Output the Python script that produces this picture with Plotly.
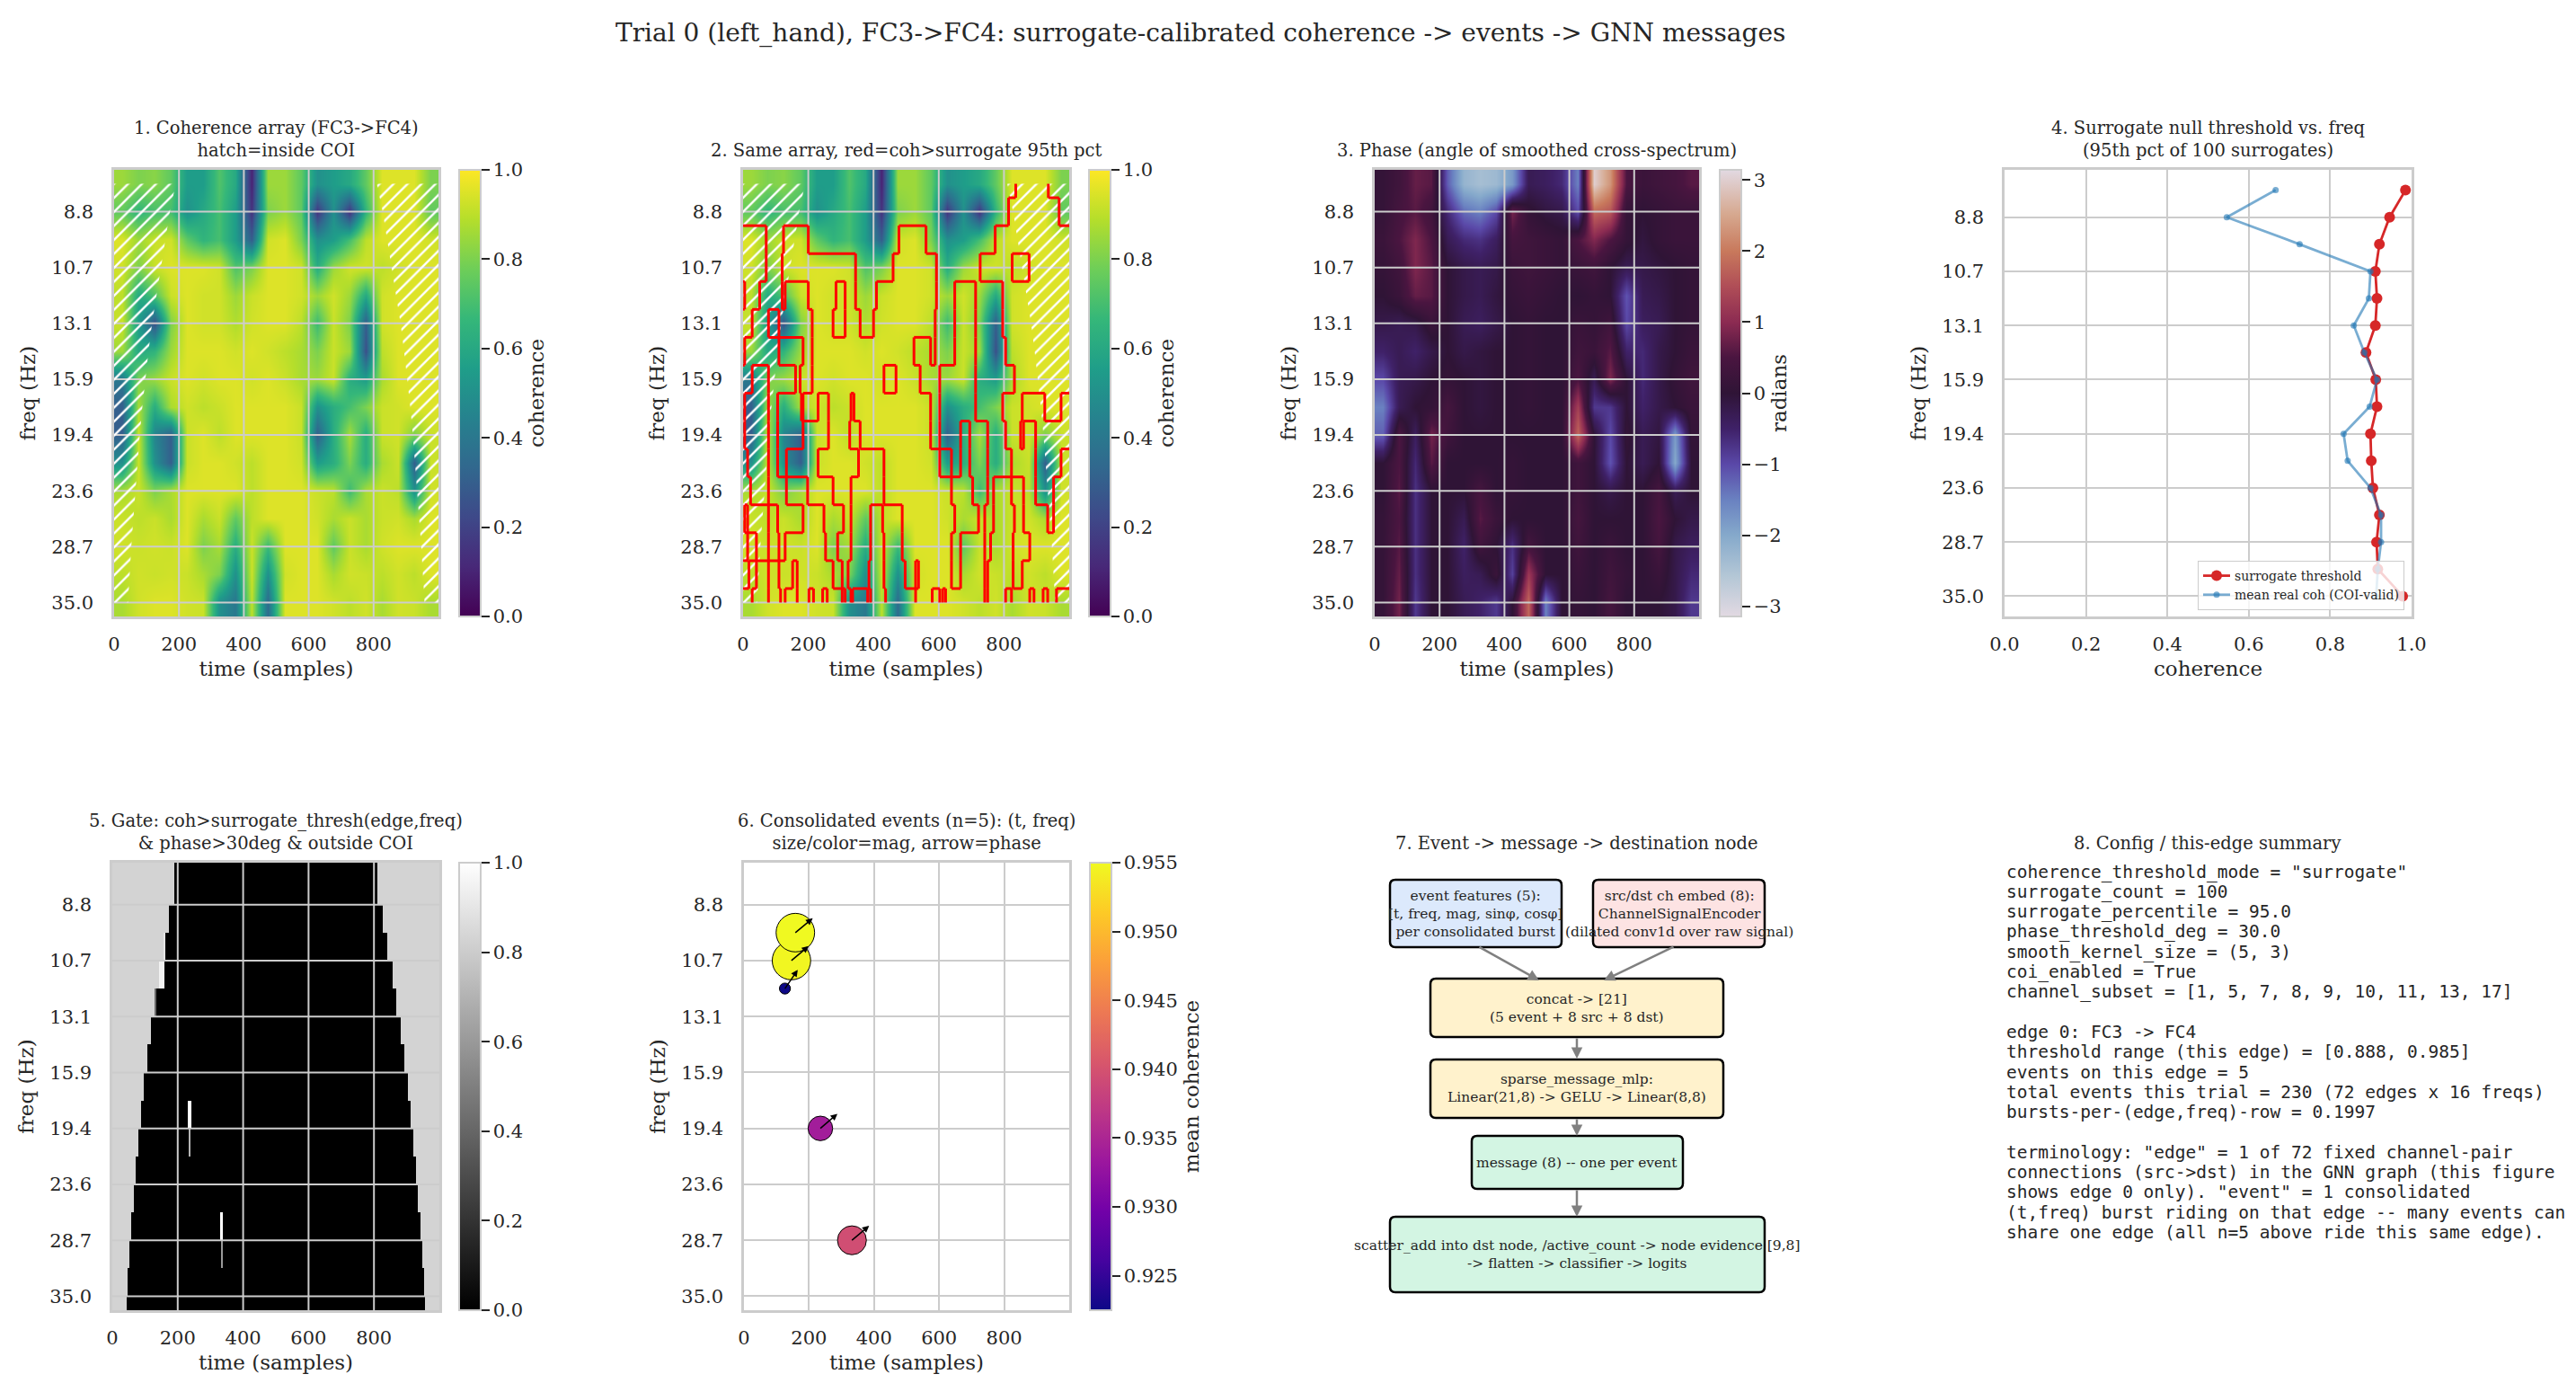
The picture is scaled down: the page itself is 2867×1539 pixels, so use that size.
import numpy as np
import plotly.graph_objects as go

W, H = 2867, 1539
N_SAMPLES = 1000

# ---------------- data ----------------
ROWS = list(range(16))
FREQ_TICK_ROWS = [1, 3, 5, 7, 9, 11, 13, 15]
FREQ_TICK_LABELS = ["8.8", "10.7", "13.1", "15.9", "19.4", "23.6", "28.7", "35.0"]
TIME_TICKS = [0, 200, 400, 600, 800]

# coherence grid, 16 freq rows x 20 time columns (centres every 50 samples)
GRID_T = list(range(25, 1000, 50))
COH = [
    [0.85, 0.80, 0.82, 0.75, 0.55, 0.55, 0.72, 0.60, 0.10, 0.85, 0.85, 0.75, 0.50, 0.55, 0.60, 0.75, 0.95, 0.95, 0.95, 0.80],
    [0.75, 0.65, 0.70, 0.70, 0.50, 0.60, 0.70, 0.55, 0.15, 0.80, 0.85, 0.75, 0.15, 0.50, 0.15, 0.65, 0.95, 0.95, 0.95, 0.75],
    [0.95, 0.85, 0.92, 0.93, 0.75, 0.65, 0.70, 0.55, 0.30, 0.93, 0.95, 0.80, 0.50, 0.55, 0.70, 0.90, 0.95, 0.95, 0.95, 0.93],
    [0.93, 0.80, 0.92, 0.95, 0.95, 0.95, 0.93, 0.72, 0.80, 0.95, 0.95, 0.93, 0.62, 0.85, 0.93, 0.93, 0.90, 0.93, 0.95, 0.95],
    [0.90, 0.60, 0.72, 0.92, 0.95, 0.93, 0.93, 0.85, 0.92, 0.95, 0.95, 0.93, 0.85, 0.93, 0.85, 0.60, 0.93, 0.95, 0.95, 0.95],
    [0.92, 0.55, 0.25, 0.80, 0.95, 0.93, 0.93, 0.88, 0.93, 0.95, 0.95, 0.90, 0.68, 0.92, 0.80, 0.30, 0.93, 0.95, 0.95, 0.95],
    [0.85, 0.60, 0.65, 0.85, 0.95, 0.95, 0.95, 0.93, 0.95, 0.93, 0.90, 0.87, 0.80, 0.92, 0.85, 0.25, 0.90, 0.95, 0.95, 0.95],
    [0.40, 0.80, 0.85, 0.92, 0.95, 0.93, 0.95, 0.95, 0.93, 0.95, 0.92, 0.87, 0.85, 0.92, 0.62, 0.55, 0.87, 0.95, 0.95, 0.95],
    [0.30, 0.87, 0.62, 0.87, 0.93, 0.90, 0.92, 0.95, 0.95, 0.95, 0.95, 0.92, 0.50, 0.62, 0.70, 0.80, 0.92, 0.93, 0.95, 0.95],
    [0.30, 0.92, 0.45, 0.30, 0.92, 0.95, 0.90, 0.95, 0.95, 0.95, 0.95, 0.92, 0.30, 0.62, 0.87, 0.62, 0.92, 0.93, 0.80, 0.92],
    [0.50, 0.92, 0.50, 0.30, 0.92, 0.95, 0.95, 0.93, 0.90, 0.95, 0.95, 0.93, 0.55, 0.62, 0.80, 0.62, 0.87, 0.92, 0.30, 0.92],
    [0.87, 0.92, 0.80, 0.87, 0.95, 0.95, 0.95, 0.95, 0.90, 0.95, 0.95, 0.95, 0.92, 0.90, 0.68, 0.87, 0.92, 0.90, 0.50, 0.93],
    [0.92, 0.90, 0.92, 0.87, 0.95, 0.87, 0.92, 0.75, 0.90, 0.95, 0.95, 0.95, 0.93, 0.87, 0.92, 0.87, 0.92, 0.93, 0.87, 0.95],
    [0.93, 0.92, 0.93, 0.92, 0.95, 0.80, 0.87, 0.62, 0.92, 0.68, 0.95, 0.95, 0.95, 0.75, 0.92, 0.87, 0.93, 0.95, 0.95, 0.95],
    [0.90, 0.93, 0.92, 0.93, 0.92, 0.87, 0.80, 0.50, 0.92, 0.50, 0.93, 0.95, 0.95, 0.87, 0.93, 0.92, 0.90, 0.93, 0.90, 0.95],
    [0.87, 0.93, 0.95, 0.95, 0.93, 0.92, 0.50, 0.40, 0.90, 0.35, 0.95, 0.95, 0.95, 0.93, 0.90, 0.93, 0.87, 0.93, 0.92, 0.87],
]

# phase (radians) on the same grid
PHASE = [
    [0.1, 0.3, 0.7, 0.6, -1.2, -2.2, -2.4, -2.3, -1.8, -0.3, -0.4, -0.6, -1.5, 3.0, 2.3, 0.5, 0.2, 0.3, 0.4, 0.6],
    [0.1, 0.4, 0.6, 0.3, -0.6, -1.3, -1.5, -1.0, 0.8, 0.1, -0.1, -0.2, -1.0, 1.8, 1.6, 0.1, 0.0, 0.1, 0.2, 0.2],
    [0.2, 0.5, 0.9, 0.5, -0.3, -0.6, -0.7, -0.4, 0.4, 0.3, 0.2, 0.1, 0.5, 0.9, 0.5, 0.1, -0.1, 0.1, 0.2, 0.2],
    [0.1, 0.3, 0.9, 0.6, 0.0, -0.2, -0.3, -0.2, 0.2, 0.3, 0.2, 0.1, 0.2, 0.3, 0.0, -0.3, -0.2, -0.1, 0.0, 0.1],
    [0.0, 0.2, 0.7, 0.6, 0.0, -0.2, -0.3, -0.1, 0.1, 0.2, 0.1, 0.0, 0.0, 0.1, 0.0, -1.1, -0.3, -0.2, 0.0, 0.1],
    [-0.2, -0.3, -0.2, 0.2, 0.0, -0.3, -0.4, -0.2, 0.0, 0.1, 0.0, 0.0, 0.2, 0.1, 0.3, -1.0, -0.4, -0.3, 0.0, 0.1],
    [-0.5, -0.3, -0.5, -0.2, 0.0, -0.2, -0.1, 0.0, 0.0, 0.1, 0.0, 0.0, 0.3, 0.2, 0.6, -0.5, -0.6, -0.2, 0.0, 0.2],
    [-1.0, -0.3, -0.2, 0.0, 0.1, 0.0, -0.1, 0.0, 0.0, 0.1, 0.0, 0.0, 0.5, -0.3, 0.9, 0.0, -0.6, -0.2, 0.1, 0.3],
    [-1.5, -0.3, 0.0, 0.1, 0.4, 0.0, -0.1, 0.0, 0.0, 0.1, 0.0, 0.0, 1.3, -0.8, -0.8, 0.0, -0.5, -0.2, 0.0, 0.2],
    [-1.2, 0.5, -0.4, 0.8, 0.3, 0.0, 0.0, 0.0, 0.0, 0.0, 0.0, 0.0, 1.8, 0.0, -1.0, 0.1, -0.3, -0.1, -1.8, 0.1],
    [0.0, 0.5, -0.6, 0.6, 0.0, 0.0, 0.0, 0.0, 0.1, 0.0, 0.0, 0.0, 0.3, 0.0, -1.1, 0.0, -0.3, 0.0, -2.0, 0.0],
    [0.0, 0.6, -0.7, 0.0, 0.0, 0.0, 0.4, 0.0, 0.1, 0.0, 0.0, 0.0, 0.3, 0.0, -0.2, 0.0, 0.0, 0.4, -0.3, 0.0],
    [0.1, 0.5, -0.7, 0.0, 0.0, -0.3, 0.6, 0.2, 0.0, 0.0, 0.0, 0.0, 0.4, 0.0, 0.0, 0.0, 0.0, 0.5, 0.0, -0.2],
    [0.1, 0.6, -0.7, 0.0, 0.0, -0.5, 0.3, 0.0, -0.7, 0.4, 0.0, 0.0, 0.3, 0.0, 0.2, 0.0, 0.0, 0.4, -0.2, -0.4],
    [0.1, 0.7, -0.7, 0.0, 0.0, -0.4, -0.3, 0.2, -0.9, 1.2, 0.0, 0.0, 0.2, 0.0, 0.3, 0.1, 0.0, 0.2, -0.2, -0.6],
    [0.1, 0.8, -0.8, 0.0, 0.0, -0.3, -0.5, -0.8, 0.0, 1.8, -1.5, 0.0, 0.1, 0.0, 0.4, 0.0, 0.0, 0.0, -0.2, -0.8],
]

# cone of influence: samples lost at each side, per freq row
COI_LEFT = [190, 172, 158, 144, 131, 117, 106, 96, 87, 79, 72, 65, 59, 53, 48, 43]

# runs (start, end sample) where coherence > surrogate threshold, per freq row
MASK_RUNS = [
    [(836, 936)],
    [(814, 969)],
    [(0, 71), (124, 200), (478, 561), (773, 1000)],
    [(0, 71), (120, 345), (460, 593), (727, 825), (877, 1000)],
    [(5, 51), (120, 129), (200, 285), (313, 345), (409, 593), (649, 713), (796, 1000)],
    [(0, 28), (78, 110), (212, 276), (313, 359), (400, 589), (649, 713), (796, 1000)],
    [(0, 5), (110, 184), (212, 524), (575, 589), (649, 713), (805, 1000)],
    [(28, 78), (161, 175), (212, 432), (469, 543), (603, 713), (832, 1000)],
    [(5, 78), (106, 179), (184, 230), (262, 331), (340, 575), (603, 713), (796, 856), (925, 975)],
    [(5, 78), (106, 184), (262, 327), (359, 575), (603, 667), (695, 750), (805, 851), (860, 897)],
    [(14, 78), (106, 133), (230, 354), (432, 603), (639, 667), (695, 750), (823, 897), (975, 1000)],
    [(23, 78), (133, 198), (276, 331), (432, 639), (704, 750), (768, 823), (860, 897), (952, 1000)],
    [(5, 14), (78, 106), (184, 248), (308, 331), (391, 428), (488, 649), (722, 741), (768, 832), (860, 934), (952, 1000)],
    [(14, 41), (78, 110), (129, 253), (290, 331), (391, 432), (488, 639), (667, 741), (759, 828), (879, 1000)],
    [(0, 18), (41, 78), (110, 152), (166, 276), (304, 322), (386, 432), (497, 529), (538, 639), (667, 741), (750, 828), (856, 1000)],
    [(28, 78), (115, 129), (166, 202), (216, 244), (258, 304), (313, 331), (336, 382), (391, 437), (529, 580),
     (603, 612), (621, 741), (750, 805), (823, 879), (892, 920), (934, 961)],
]

# open-gate spots: (row band, start sample, end sample, value)
GATE_SPOTS = [(2, 156, 162, 0.9), (3, 144, 160, 0.95), (4, 129, 134, 0.4),
              (8, 231, 242, 1.0), (9, 233, 240, 0.7), (12, 331, 339, 1.0), (13, 332, 338, 0.6)]

SURR_THRESH = [0.985, 0.946, 0.921, 0.911, 0.915, 0.911, 0.888, 0.912,
               0.915, 0.899, 0.901, 0.905, 0.921, 0.914, 0.917, 0.978]
MEAN_REAL_COH = [0.666, 0.546, 0.725, 0.899, 0.895, 0.858, 0.884, 0.915,
                 0.897, 0.833, 0.843, 0.899, 0.925, 0.925, 0.917, 0.913]

EVENT_T = [146, 158, 126, 235, 332]
EVENT_ROW = [3, 2, 4, 9, 13]
EVENT_MAG = [0.9548, 0.9550, 0.9225, 0.9340, 0.9395]
EVENT_PHASE = [0.70, 0.69, 0.97, 0.71, 0.70]

CONFIG_LINES = [
    'coherence_threshold_mode = "surrogate"',
    'surrogate_count = 100',
    'surrogate_percentile = 95.0',
    'phase_threshold_deg = 30.0',
    'smooth_kernel_size = (5, 3)',
    'coi_enabled = True',
    'channel_subset = [1, 5, 7, 8, 9, 10, 11, 13, 17]',
    '',
    'edge 0: FC3 -> FC4',
    'threshold range (this edge) = [0.888, 0.985]',
    'events on this edge = 5',
    'total events this trial = 230 (72 edges x 16 freqs)',
    'bursts-per-(edge,freq)-row = 0.1997',
    '',
    'terminology: "edge" = 1 of 72 fixed channel-pair',
    'connections (src->dst) in the GNN graph (this figure',
    'shows edge 0 only). "event" = 1 consolidated',
    '(t,freq) burst riding on that edge -- many events can',
    'share one edge (all n=5 above ride this same edge).',
]

# ---------------- layout geometry (pixels) ----------------
PANELS = {
    1: (119, 480, 181, 678),
    2: (819, 1182, 181, 678),
    3: (1522, 1883, 181, 678),
    4: (2223, 2676, 181, 678),
    5: (117, 481, 952, 1450),
    6: (820, 1182, 952, 1450),
}
CBAR_X = {1: 503, 2: 1204, 3: 1906, 5: 503, 6: 1205}

TITLES = {
    1: "1. Coherence array (FC3->FC4)<br>hatch=inside COI",
    2: "2. Same array, red=coh>surrogate 95th pct",
    3: "3. Phase (angle of smoothed cross-spectrum)",
    4: "4. Surrogate null threshold vs. freq<br>(95th pct of 100 surrogates)",
    5: "5. Gate: coh>surrogate_thresh(edge,freq)<br>&amp; phase>30deg &amp; outside COI",
    6: "6. Consolidated events (n=5): (t, freq)<br>size/color=mag, arrow=phase",
}

TEXT = "#262626"
GRID = "#cccccc"
SERIF = "DejaVu Serif"
TITLE_SIZE = 19.5

TWILIGHT = [[0.0, "#e2d9e2"], [0.09, "#b4c7d6"], [0.182, "#85a9cb"], [0.26, "#6a82c1"],
            [0.341, "#5a48a8"], [0.42, "#3f2168"], [0.5, "#2f1436"], [0.58, "#4a1540"],
            [0.659, "#8c2b52"], [0.74, "#b04e57"], [0.818, "#c8795c"], [0.9, "#d6a88f"],
            [1.0, "#e2d9e2"]]


def xr(p):
    return "x" if p == 1 else f"x{p}"


def yr(p):
    return "y" if p == 1 else f"y{p}"


def cbar(p, title, tickvals, fmt):
    x0, x1, y0, y1 = PANELS[p]
    return dict(
        x=CBAR_X[p] / W, xanchor="left", xpad=0, ypad=0,
        y=1 - (y0 + y1) / 2 / H, yanchor="middle",
        len=(y1 - y0) / H, lenmode="fraction",
        thickness=24, thicknessmode="pixels",
        outlinecolor=GRID, outlinewidth=2,
        ticks="outside", ticklen=9, tickwidth=2, tickcolor=TEXT,
        tickvals=tickvals, tickformat=fmt,
        tickfont=dict(size=21, color=TEXT, family=SERIF),
        title=dict(text=title, side="right", font=dict(size=23, color=TEXT, family=SERIF)),
    )


def grid_trace(p):
    xs, ys = [], []
    for t in TIME_TICKS[1:]:
        xs += [t, t, None]
        ys += [-0.5, 15.5, None]
    for r in FREQ_TICK_ROWS:
        xs += [0, N_SAMPLES, None]
        ys += [r, r, None]
    return go.Scatter(x=xs, y=ys, mode="lines", line=dict(color=GRID, width=2),
                      xaxis=xr(p), yaxis=yr(p), hoverinfo="skip", showlegend=False)


def hatch_traces(p):
    out = []
    left_x = [0] + COI_LEFT + [0]
    right_x = [N_SAMPLES] + [N_SAMPLES - c for c in COI_LEFT] + [N_SAMPLES]
    ys = [0] + ROWS + [15]
    for xs in (left_x, right_x):
        out.append(go.Scatter(
            x=xs, y=ys, mode="lines", fill="toself", line=dict(width=0),
            fillcolor="rgba(0,0,0,0)",
            fillpattern=dict(shape="/", fgcolor="white", bgcolor="rgba(0,0,0,0)",
                             fgopacity=1, size=11, solidity=0.22, fillmode="overlay"),
            xaxis=xr(p), yaxis=yr(p), hoverinfo="skip", showlegend=False))
    return out


def runs_of(flags):
    out = []
    start = None
    for i, f in enumerate(flags):
        if f and start is None:
            start = i
        elif not f and start is not None:
            out.append((start, i))
            start = None
    if start is not None:
        out.append((start, len(flags)))
    return out


fig = go.Figure()

# ---- panels 1 & 2: coherence
for p in (1, 2):
    fig.add_trace(go.Heatmap(
        x=GRID_T, y=ROWS, z=COH, zmin=0, zmax=1, colorscale="Viridis", zsmooth="best",
        colorbar=cbar(p, "coherence", [0, 0.2, 0.4, 0.6, 0.8, 1.0], ".1f"),
        xaxis=xr(p), yaxis=yr(p), hoverinfo="skip"))
    fig.add_trace(grid_trace(p))
    for tr in hatch_traces(p):
        fig.add_trace(tr)

# red outline of the above-threshold mask (panel 2)
mask = np.zeros((16, N_SAMPLES), dtype=bool)
for r, runs in enumerate(MASK_RUNS):
    for a, b in runs:
        mask[r, a:b] = True
ox, oy = [], []
for r in range(15):
    for a, b in runs_of(mask[r] != mask[r + 1]):
        ox += [a, b, None]
        oy += [r + 0.5, r + 0.5, None]
for r in range(16):
    for c in np.nonzero(np.diff(mask[r].astype(int)))[0] + 1:
        ox += [int(c), int(c), None]
        oy += [max(r - 0.5, 0), min(r + 0.5, 15), None]
fig.add_trace(go.Scatter(x=ox, y=oy, mode="lines", line=dict(color="#ff0000", width=3),
                         xaxis="x2", yaxis="y2", hoverinfo="skip", showlegend=False))

# ---- panel 3: phase
fig.add_trace(go.Heatmap(
    x=GRID_T, y=ROWS, z=PHASE, zmin=-np.pi, zmax=np.pi, colorscale=TWILIGHT, zsmooth="best",
    colorbar=cbar(3, "radians", [-3, -2, -1, 0, 1, 2, 3], "d"),
    xaxis="x3", yaxis="y3", hoverinfo="skip"))
fig.add_trace(grid_trace(3))

# ---- panel 4: surrogate threshold vs freq
fig.add_trace(go.Scatter(
    x=SURR_THRESH, y=ROWS, mode="lines+markers", name="surrogate threshold",
    line=dict(color="#d62728", width=2.8), marker=dict(size=12, color="#d62728"),
    xaxis="x4", yaxis="y4", legendrank=1))
fig.add_trace(go.Scatter(
    x=MEAN_REAL_COH, y=ROWS, mode="lines+markers", name="mean real coh (COI-valid)",
    line=dict(color="rgba(31,119,180,0.6)", width=2.8),
    marker=dict(size=7, color="rgba(31,119,180,0.6)"),
    xaxis="x4", yaxis="y4", legendrank=2))

# ---- panel 5: gate mask
gate = np.full((16, N_SAMPLES), np.nan)
for r, c in enumerate(COI_LEFT):
    gate[r, c:N_SAMPLES - c] = 0.0
for band, t0, t1, v in GATE_SPOTS:
    gate[band, t0:t1] = v
gate_y_edges = [-0.5] + list(range(1, 16)) + [15.5]
fig.add_trace(go.Heatmap(
    x=list(range(N_SAMPLES + 1)), y=gate_y_edges, z=gate, zmin=0, zmax=1,
    colorscale=[[0, "black"], [1, "white"]], zsmooth=False,
    colorbar=cbar(5, None, [0, 0.2, 0.4, 0.6, 0.8, 1.0], ".1f"),
    xaxis="x5", yaxis="y5", hoverinfo="skip"))
fig.add_trace(grid_trace(5))

# ---- panel 6: consolidated events
mag = np.array(EVENT_MAG)
diam = np.sqrt(150 + 52000 * (mag - mag.min()))
fig.add_trace(go.Scatter(
    x=EVENT_T, y=EVENT_ROW, mode="markers",
    marker=dict(size=diam, sizemode="diameter", color=EVENT_MAG, colorscale="Plasma",
                cmin=mag.min(), cmax=mag.max(), opacity=1,
                line=dict(color="black", width=1),
                colorbar=cbar(6, "mean coherence",
                              [0.925, 0.93, 0.935, 0.94, 0.945, 0.95, 0.955], ".3f")),
    xaxis="x6", yaxis="y6", hoverinfo="skip", showlegend=False))

annotations = []
ARROW_LEN = 27
for t, r, ph in zip(EVENT_T, EVENT_ROW, EVENT_PHASE):
    annotations.append(dict(
        x=t, y=r, xref="x6", yref="y6", text="", showarrow=True,
        ax=ARROW_LEN * np.cos(ph), ay=-ARROW_LEN * np.sin(ph),
        arrowside="start", startarrowhead=2, startarrowsize=1,
        arrowwidth=1.5, arrowcolor="black"))

# ---------------- axes ----------------
layout_axes = {}
for p, (x0, x1, y0, y1) in PANELS.items():
    suffix = "" if p == 1 else str(p)
    xa = dict(domain=[x0 / W, x1 / W], anchor=yr(p), automargin=False, showline=True, mirror=True,
              linecolor=GRID, linewidth=2.5, zeroline=False, ticks="",
              tickfont=dict(size=21, color=TEXT), ticklabelstandoff=10,
              title=dict(text="time (samples)", font=dict(size=23, color=TEXT), standoff=8),
              tickvals=TIME_TICKS, range=[0, N_SAMPLES], showgrid=False)
    ya = dict(domain=[1 - y1 / H, 1 - y0 / H], anchor=xr(p), automargin=False, showline=True, mirror=True,
              linecolor=GRID, linewidth=2.5, zeroline=False, ticks="",
              tickfont=dict(size=21, color=TEXT), ticklabelstandoff=16,
              title=dict(text="freq (Hz)", font=dict(size=23, color=TEXT), standoff=12),
              tickvals=FREQ_TICK_ROWS, ticktext=FREQ_TICK_LABELS,
              range=[15.5, -0.5], showgrid=False)
    if p == 4:
        xa.update(tickvals=[0, 0.2, 0.4, 0.6, 0.8, 1.0], tickformat=".1f", range=[0, 1],
                  showgrid=True, gridcolor=GRID, gridwidth=2)
        xa["title"]["text"] = "coherence"
        ya.update(range=[15.75, -0.75], showgrid=True, gridcolor=GRID, gridwidth=2)
    if p == 6:
        xa.update(showgrid=True, gridcolor=GRID, gridwidth=2)
        ya.update(showgrid=True, gridcolor=GRID, gridwidth=2)
    layout_axes["xaxis" + suffix] = xa
    layout_axes["yaxis" + suffix] = ya

# ---------------- titles ----------------
for p, text in TITLES.items():
    x0, x1, y0, y1 = PANELS[p]
    annotations.append(dict(x=(x0 + x1) / 2 / W, y=1 - (y0 - 8) / H, xref="paper", yref="paper",
                            text=text, showarrow=False, xanchor="center", yanchor="bottom",
                            font=dict(size=TITLE_SIZE, color=TEXT)))
annotations.append(dict(x=1747 / W, y=1 - 944 / H, xref="paper", yref="paper",
                        text="7. Event -> message -> destination node", showarrow=False,
                        xanchor="center", yanchor="bottom", font=dict(size=TITLE_SIZE, color=TEXT)))
annotations.append(dict(x=2448 / W, y=1 - 944 / H, xref="paper", yref="paper",
                        text="8. Config / this-edge summary", showarrow=False,
                        xanchor="center", yanchor="bottom", font=dict(size=TITLE_SIZE, color=TEXT)))
annotations.append(dict(x=1328 / W, y=1 - 28 / H, xref="paper", yref="paper",
                        text="Trial 0 (left_hand), FC3->FC4: surrogate-calibrated coherence -> events -> GNN messages",
                        showarrow=False, xanchor="center", yanchor="middle",
                        font=dict(size=28, color=TEXT)))

# ---------------- panel 7: flow diagram ----------------
BOXES = [
    ((1539, 1730, 971, 1046), "#dce9fc", "event features (5):<br>[t, freq, mag, sinφ, cosφ]<br>per consolidated burst", (1634, 1009)),
    ((1765, 1956, 971, 1046), "#fde3e3", "src/dst ch embed (8):<br>ChannelSignalEncoder<br>(dilated conv1d over raw signal)", (1861, 1009)),
    ((1584, 1910, 1081, 1146), "#fff2cc", "concat -> [21]<br>(5 event + 8 src + 8 dst)", (1747, 1114)),
    ((1584, 1910, 1171, 1236), "#fff2cc", "sparse_message_mlp:<br>Linear(21,8) -> GELU -> Linear(8,8)", (1747, 1203)),
    ((1630, 1865, 1256, 1315), "#d3f5e3", "message (8) -- one per event", (1747, 1286)),
    ((1539, 1956, 1346, 1430), "#d3f5e3", "scatter_add into dst node, /active_count -> node evidence [9,8]<br>-> flatten -> classifier -> logits", (1747, 1388)),
]
ARROWS = [((1637, 1045), (1705, 1083)), ((1856, 1045), (1777, 1083)),
          ((1747, 1146), (1747, 1170)), ((1747, 1236), (1747, 1256)),
          ((1747, 1315), (1747, 1346))]


def rounded_path(x0, x1, y0, y1, r=6):
    pts = lambda x, y: f"{x / W:.6f},{1 - y / H:.6f}"
    return (f"M {pts(x0 + r, y0)} L {pts(x1 - r, y0)} Q {pts(x1, y0)} {pts(x1, y0 + r)} "
            f"L {pts(x1, y1 - r)} Q {pts(x1, y1)} {pts(x1 - r, y1)} "
            f"L {pts(x0 + r, y1)} Q {pts(x0, y1)} {pts(x0, y1 - r)} "
            f"L {pts(x0, y0 + r)} Q {pts(x0, y0)} {pts(x0 + r, y0)} Z")


shapes = []
# light grey background of the gate panel (NaN area)
shapes.append(dict(type="rect", xref="x5 domain", yref="y5 domain", x0=0, x1=1, y0=0, y1=1,
                   fillcolor="#d3d3d3", line=dict(width=0), layer="below"))
for (x0, x1, y0, y1), color, text, (cx, cy) in BOXES:
    shapes.append(dict(type="path", xref="paper", yref="paper", path=rounded_path(x0, x1, y0, y1),
                       fillcolor=color, line=dict(color="black", width=2.5), layer="above"))
    annotations.append(dict(x=cx / W, y=1 - cy / H, xref="paper", yref="paper", text=text,
                            showarrow=False, xanchor="center", yanchor="middle",
                            font=dict(size=15.5, color=TEXT)))
for (tx, ty), (hx, hy) in ARROWS:
    annotations.append(dict(x=hx / W, y=1 - hy / H, ax=tx - hx, ay=ty - hy,
                            xref="paper", yref="paper",
                            text="", showarrow=True, arrowhead=2, arrowsize=1,
                            arrowwidth=2.5, arrowcolor="#808080"))

# ---------------- panel 8: config text ----------------
for i, line in enumerate(CONFIG_LINES):
    if not line:
        continue
    annotations.append(dict(x=2223 / W, y=1 - (962 + i * 22.3) / H, xref="paper", yref="paper",
                            text=line, showarrow=False, xanchor="left", yanchor="middle",
                            font=dict(size=19.5, color=TEXT, family="DejaVu Sans Mono")))

fig.update_layout(
    width=W, height=H, margin=dict(l=0, r=0, t=0, b=0, autoexpand=False),
    paper_bgcolor="white", plot_bgcolor="white",
    font=dict(family=SERIF, color=TEXT),
    showlegend=True,
    legend=dict(x=2668 / W, xanchor="right", y=1 - 671 / H, yanchor="bottom",
                bgcolor="rgba(255,255,255,0.8)", bordercolor=GRID, borderwidth=1,
                font=dict(size=14, color=TEXT), tracegroupgap=0, itemwidth=30),
    annotations=annotations,
    shapes=shapes,
    **layout_axes,
)

fig.write_html("out.html")
